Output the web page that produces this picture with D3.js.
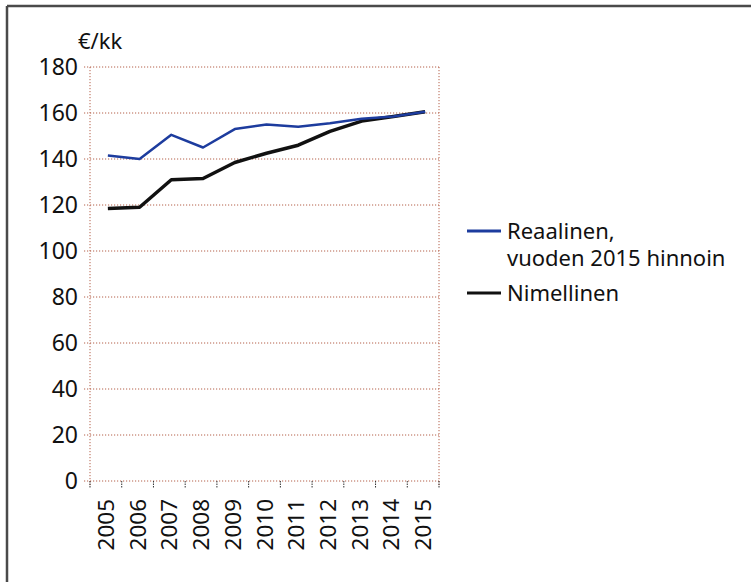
<!DOCTYPE html>
<html>
<head>
<meta charset="utf-8">
<style>
  body { margin: 0; background: #fff; }
  svg text { font-family: "Noto Sans", "DejaVu Sans", sans-serif; fill: #111; }
</style>
</head>
<body>
<svg id="chart"></svg>
<script src="https://cdnjs.cloudflare.com/ajax/libs/d3/7.8.5/d3.min.js"></script>
<script>

  // data
  var years    = ["2005","2006","2007","2008","2009","2010","2011","2012","2013","2014","2015"];
  var reaal    = [141.5, 140, 150.5, 145, 153, 155, 154, 155.5, 157.5, 158.5, 160.5];
  var nimel    = [118.5, 119, 131, 131.5, 138.5, 142.5, 146, 152, 156.5, 158.5, 160.5];
  var yTicks   = [0, 20, 40, 60, 80, 100, 120, 140, 160, 180];
  var legendLabels = [["Reaalinen,", "vuoden 2015 hinnoin"], ["Nimellinen"]];
  var seriesColors = ["#1d3c9e", "#111111"];

  var width   = 751,
      height  = 582,
      plotL   = 90,
      plotR   = 439,
      plotT   = 67,
      plotB   = 481,
      gridColor = "#b4604a";

  var svg = d3.select("#chart")
              .attr("width", width)
              .attr("height", height);

  // scan frame on the top and left edges
  svg.append("line").attr("x1", 7).attr("x2", width).attr("y1", 6).attr("y2", 6)
     .style("stroke", "#4a4a4a").style("stroke-width", 2.5);
  svg.append("line").attr("x1", 7).attr("x2", 7).attr("y1", 6).attr("y2", height)
     .style("stroke", "#4a4a4a").style("stroke-width", 2.5);

  var x = d3.scaleBand().domain(years).range([plotL, plotR]);
  var y = d3.scaleLinear().domain([0, 180]).range([plotB, plotT]);

  // horizontal dotted gridlines
  svg.append("g").selectAll("line")
     .data(yTicks)
     .enter().append("line")
       .attr("x1", plotL - 6).attr("x2", plotR)
       .attr("y1", function(d) { return y(d); })
       .attr("y2", function(d) { return y(d); })
       .style("stroke", gridColor)
       .style("stroke-width", 1)
       .style("stroke-dasharray", "1.2,1.8");

  // left and right dotted frame lines
  [plotL, plotR].forEach(function(px) {
    svg.append("line").attr("x1", px).attr("x2", px).attr("y1", plotT).attr("y2", plotB + 6)
       .style("stroke", gridColor).style("stroke-width", 1).style("stroke-dasharray", "1.2,1.8");
  });

  // x tick marks at band boundaries
  var bounds = years.map(function(d) { return x(d); }).concat([plotR]);
  svg.append("g").selectAll("line")
     .data(bounds)
     .enter().append("line")
       .attr("x1", function(d) { return d; }).attr("x2", function(d) { return d; })
       .attr("y1", plotB).attr("y2", plotB + 7)
       .style("stroke", "#333").style("stroke-width", 1).style("stroke-dasharray", "1.5,1");

  // y tick labels
  svg.append("g").selectAll("text")
     .data(yTicks)
     .enter().append("text")
       .attr("x", 78)
       .attr("y", function(d) { return y(d); })
       .attr("dy", "0.36em")
       .attr("text-anchor", "end")
       .style("font-size", "23px")
       .text(function(d) { return d; });

  svg.append("text")
     .attr("x", 78).attr("y", 49)
     .style("font-size", "22px")
     .text("€/kk");

  // rotated year labels
  svg.append("g").selectAll("text")
     .data(years)
     .enter().append("text")
       .attr("transform", function(d) {
         return "translate(" + (x(d) + x.bandwidth() / 2 + 8) + "," + (plotB + 18) + ") rotate(-90)";
       })
       .attr("text-anchor", "end")
       .style("font-size", "22.5px")
       .text(function(d) { return d; });

  // series lines
  var line = d3.line()
               .x(function(d, i) { return x(years[i]) + x.bandwidth() / 2 + 2; })
               .y(function(d) { return y(d); });

  svg.append("path").datum(nimel)
     .attr("d", line)
     .style("fill", "none").style("stroke", seriesColors[1]).style("stroke-width", 3.5)
     .style("stroke-linejoin", "round");

  svg.append("path").datum(reaal)
     .attr("d", line)
     .style("fill", "none").style("stroke", seriesColors[0]).style("stroke-width", 2.5)
     .style("stroke-linejoin", "round");

  // legend
  var legendY = [231, 293];
  legendLabels.forEach(function(lines, i) {
    svg.append("line")
       .attr("x1", 467).attr("x2", 501)
       .attr("y1", legendY[i]).attr("y2", legendY[i])
       .style("stroke", seriesColors[i]).style("stroke-width", 3);
    lines.forEach(function(t, j) {
      svg.append("text")
         .attr("x", 507)
         .attr("y", legendY[i] + 8 + j * 27)
         .style("font-size", "22px")
         .text(t);
    });
  });

</script>
</body>
</html>
